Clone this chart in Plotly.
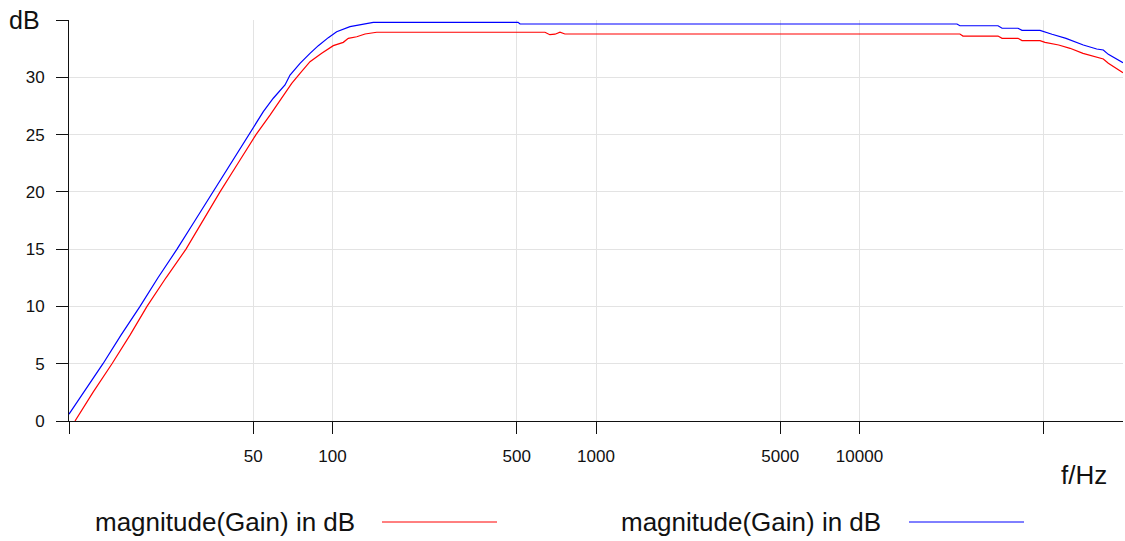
import plotly.graph_objects as go

# ---- data ----
freq_red = [10.54, 12.33, 14.56, 17.04, 19.77, 23.34, 27.80, 32.25, 37.42, 43.79, 51.25,
            57.92, 63.22, 70.02, 75.29, 82.15, 91.0, 100.7, 109.9, 114.8, 123.6,
            132.9, 147.1, 640, 668, 699, 730, 762, 24050, 24700, 33550, 34760, 39950,
            41380, 48420, 50580, 57000, 62950, 70500, 84210, 87970, 100000]
gain_red = [0.0, 2.5, 5.0, 7.5, 10.0, 12.5, 15.0, 17.5, 20.0, 22.5, 25.0,
            26.7, 28.0, 29.47, 30.34, 31.36, 32.09, 32.76, 33.05, 33.4, 33.54,
            33.78, 33.93, 33.93, 33.72, 33.76, 33.93, 33.78, 33.78, 33.6, 33.6, 33.4, 33.4,
            33.2, 33.2, 33.05, 32.82, 32.53, 32.09, 31.6, 31.22, 30.4]

freq_blue = [10.0, 11.60, 13.46, 15.75, 18.60, 21.76, 25.70, 30.08, 35.20, 41.19, 48.21,
             50.06, 54.63, 59.61, 66.03, 68.99, 75.29, 82.15, 88.35, 96.40, 103.7, 116.5,
             130.9, 142.8, 506, 515, 23440, 24050, 33550, 34760, 39950, 41380, 48420, 50580,
             53780, 60770, 70690, 79470, 84210, 87970, 93240, 100000]
gain_blue = [0.6, 2.8, 5.0, 7.5, 10.0, 12.5, 15.0, 17.5, 20.0, 22.5, 25.0,
             25.55, 27.0, 28.17, 29.33, 30.2, 31.22, 32.09, 32.76, 33.46, 33.98, 34.42,
             34.65, 34.8, 34.8, 34.65, 34.65, 34.5, 34.5, 34.28, 34.28, 34.1, 34.1, 33.93,
             33.76, 33.4, 32.82, 32.47, 32.38, 32.0, 31.66, 31.27]

x_tick_vals = [10, 50, 100, 500, 1000, 5000, 10000, 50000]
x_tick_text = ["", "50", "100", "500", "1000", "5000", "10000", ""]
y_tick_vals = [0, 5, 10, 15, 20, 25, 30, 35]
y_tick_text = ["0", "5", "10", "15", "20", "25", "30", ""]

series_name = "magnitude(Gain) in dB"
red = "#ff0000"
blue = "#0000ff"
font_family = "Liberation Sans, Arial, sans-serif"

fig = go.Figure()
fig.add_trace(go.Scatter(x=freq_red, y=gain_red, mode="lines", name=series_name,
                         line=dict(color=red, width=1.2), showlegend=False))
fig.add_trace(go.Scatter(x=freq_blue, y=gain_blue, mode="lines", name=series_name,
                         line=dict(color=blue, width=1.2), showlegend=False))

fig.update_layout(
    width=1125, height=541,
    margin=dict(l=69, r=2, t=20, b=120),
    paper_bgcolor="white", plot_bgcolor="white",
    font=dict(family=font_family, size=17, color="#111"),
    showlegend=False,
    xaxis=dict(type="log", range=[1, 5], tickvals=x_tick_vals, ticktext=x_tick_text,
               showgrid=True, gridcolor="#e3e3e3", gridwidth=1,
               showline=True, linecolor="#111", linewidth=1,
               ticks="outside", ticklen=12, tickcolor="#111", tickwidth=1,
               ticklabelstandoff=8, zeroline=False,
               tickfont=dict(family=font_family, size=17, color="#111")),
    yaxis=dict(range=[0, 35], tickvals=y_tick_vals, ticktext=y_tick_text,
               showgrid=True, gridcolor="#e3e3e3", gridwidth=1,
               showline=True, linecolor="#111", linewidth=1,
               ticks="outside", ticklen=12, tickcolor="#111", tickwidth=1,
               ticklabelstandoff=8, zeroline=False,
               tickfont=dict(family=font_family, size=17, color="#111")),
)

W = 1054.0
H = 401.0
def px(xp):
    return (xp - 69) / W
def py(yp):
    return (421 - yp) / H

fig.add_annotation(x=px(42), y=py(20), xref="paper", yref="paper", text="dB",
                   showarrow=False, xanchor="right", yanchor="middle",
                   font=dict(family=font_family, size=25, color="#111"))
fig.add_annotation(x=px(1084), y=py(475), xref="paper", yref="paper", text="f/Hz",
                   showarrow=False, xanchor="center", yanchor="middle",
                   font=dict(family=font_family, size=26, color="#111"))
legend_font = dict(family=font_family, size=26, color="#111")
fig.add_annotation(x=px(93), y=py(522), xref="paper", yref="paper", text=series_name,
                   showarrow=False, xanchor="left", yanchor="middle", font=legend_font)
fig.add_annotation(x=px(619), y=py(522), xref="paper", yref="paper", text=series_name,
                   showarrow=False, xanchor="left", yanchor="middle", font=legend_font)
fig.add_shape(type="line", xref="paper", yref="paper", x0=px(382), x1=px(497),
              y0=py(522), y1=py(522), line=dict(color=red, width=1))
fig.add_shape(type="line", xref="paper", yref="paper", x0=px(909), x1=px(1024),
              y0=py(522), y1=py(522), line=dict(color=blue, width=1))

fig.write_html("out.html", config={"displayModeBar": False},
               post_script="document.body.style.margin='0px';document.body.style.overflow='hidden';")
